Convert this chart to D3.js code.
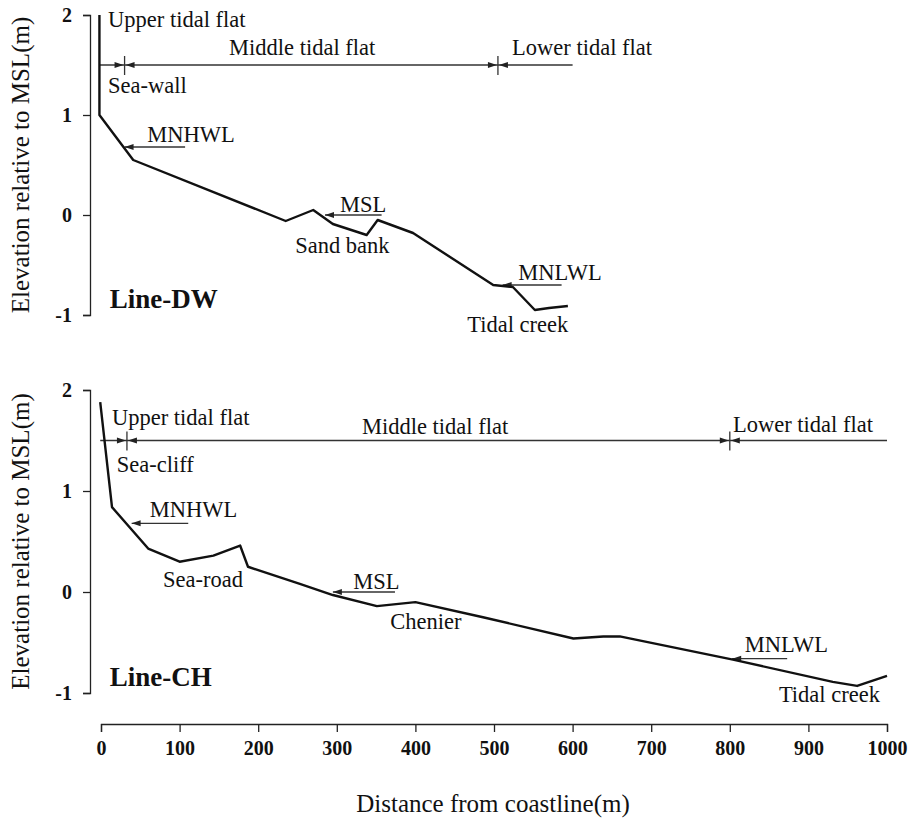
<html>
<head>
<meta charset="utf-8">
<script src="https://d3js.org/d3.v7.min.js"></script>
<style>
body { margin: 0; background: #fff; }
text { font-family: "Liberation Serif", "Times New Roman", serif; fill: #111; }
.axis path, .axis line { stroke: #222; stroke-width: 1.3; }
.axis text { font-size: 20px; font-weight: bold; }
.profile { fill: none; stroke: #111; stroke-width: 2.4; stroke-linejoin: round; }
.guide { fill: none; stroke: #333; stroke-width: 1.3; }
.note { font-size: 22.5px; }
.title { font-size: 25px; }
.panel { font-size: 27px; font-weight: bold; }
</style>
</head>
<body>
<svg width="912" height="818"></svg>
<script>
// Line-DW profile (distance m, elevation m)
const dwDist = [-2, -2, 41, 235, 270, 295, 338, 352, 397, 499, 524, 552, 570, 594];
const dwElev = [2.0, 1.0, 0.55, -0.06, 0.05, -0.09, -0.20, -0.05, -0.18, -0.70, -0.72, -0.95, -0.93, -0.91];

// Line-CH profile
const chDist = [-1, 14, 60, 100, 143, 177, 187, 253, 295, 351, 400, 486, 601, 639, 660, 804, 931, 962, 1000];
const chElev = [1.88, 0.84, 0.43, 0.30, 0.36, 0.46, 0.25, 0.08, -0.03, -0.14, -0.10, -0.25, -0.46, -0.44, -0.44, -0.67, -0.89, -0.93, -0.83];

// zone line: [start, boundary1, boundary2, end] at elevation 1.5
const dwZones = [-2, 30, 505, 600];
const chZones = [-1, 33, 800, 1000];

// water levels: name, elevation, arrow tip, arrow tail
const dwLevels = [["MNHWL", 0.68, 30, 107], ["MSL", 0.0, 285, 357], ["MNLWL", -0.70, 511, 586]];
const chLevels = [["MNHWL", 0.68, 39, 111], ["MSL", 0.0, 295, 374], ["MNLWL", -0.66, 803, 873]];

// labels: text, distance, elevation, anchor
const dwLabels = [
  ["Upper tidal flat", 9, 1.88, "start"], ["Middle tidal flat", 256, 1.60, "middle"],
  ["Lower tidal flat", 523, 1.60, "start"], ["Sea-wall", 9, 1.22, "start"],
  ["MNHWL", 59, 0.73, "start"], ["MSL", 304, 0.03, "start"], ["Sand bank", 247, -0.38, "start"],
  ["MNLWL", 531, -0.65, "start"], ["Tidal creek", 466, -1.17, "start"]
];
const chLabels = [
  ["Upper tidal flat", 14, 1.65, "start"], ["Middle tidal flat", 425, 1.56, "middle"],
  ["Lower tidal flat", 804, 1.58, "start"], ["Sea-cliff", 20, 1.19, "start"],
  ["MNHWL", 62, 0.74, "start"], ["Sea-road", 79, 0.05, "start"], ["MSL", 321, 0.03, "start"],
  ["Chenier", 368, -0.37, "start"], ["MNLWL", 819, -0.59, "start"], ["Tidal creek", 991, -1.09, "end"]
];

const yTicks = [-1, 0, 1, 2];
const xTicks = [0, 100, 200, 300, 400, 500, 600, 700, 800, 900, 1000];

const svg = d3.select('svg');
const xs = d3.scaleLinear().domain([0, 1000]).range([101, 887]);

function arrow(g, x, y, dir) {
  // small filled arrowhead with its tip at (x, y); dir = -1 points left, 1 points right
  g.append('path')
    .attr('d', `M${x},${y}L${x - dir * 9},${y - 3}L${x - dir * 9},${y + 3}Z`)
    .attr('fill', '#222');
}

function panel(top, bottom, dist, elev, zones, levels, labels, name) {
  const ys = d3.scaleLinear().domain([-1, 2]).range([bottom, top]);
  const g = svg.append('g');

  g.append('g').attr('class', 'axis')
    .attr('transform', 'translate(90,0)')
    .call(d3.axisLeft(ys).tickValues(yTicks).tickSize(7).tickPadding(11).tickFormat(d => String(d)));

  g.append('text').attr('class', 'title')
    .attr('transform', `translate(29,${(top + bottom) / 2}) rotate(-90)`)
    .attr('text-anchor', 'middle')
    .text('Elevation relative to MSL(m)');

  // zone line with boundaries
  const yz = ys(1.5);
  g.append('line').attr('class', 'guide')
    .attr('x1', xs(zones[0])).attr('x2', xs(zones[3])).attr('y1', yz).attr('y2', yz);
  [zones[1], zones[2]].forEach(b => {
    const bx = xs(b);
    g.append('line').attr('class', 'guide')
      .attr('x1', bx).attr('x2', bx).attr('y1', yz - 9).attr('y2', yz + 10);
    arrow(g, bx - 1, yz, 1);
    arrow(g, bx + 1, yz, -1);
  });

  // water level arrows
  levels.forEach(l => {
    const yl = ys(l[1]);
    g.append('line').attr('class', 'guide')
      .attr('x1', xs(l[2])).attr('x2', xs(l[3])).attr('y1', yl).attr('y2', yl);
    arrow(g, xs(l[2]), yl, -1);
  });

  const line = d3.line().x(d => xs(d[0])).y(d => ys(d[1]));
  g.append('path').attr('class', 'profile')
    .attr('d', line(dist.map((d, i) => [d, elev[i]])));

  g.selectAll('text.note').data(labels).enter().append('text')
    .attr('class', 'note')
    .attr('x', d => xs(d[1])).attr('y', d => ys(d[2]))
    .attr('text-anchor', d => d[3])
    .text(d => d[0]);

  g.append('text').attr('class', 'panel')
    .attr('x', xs(11)).attr('y', ys(-0.93))
    .text(name);
}

panel(15, 315, dwDist, dwElev, dwZones, dwLevels, dwLabels, 'Line-DW');
panel(390, 693, chDist, chElev, chZones, chLevels, chLabels, 'Line-CH');

svg.append('g').attr('class', 'axis')
  .attr('transform', 'translate(0,724)')
  .call(d3.axisBottom(xs).tickValues(xTicks).tickSize(8).tickPadding(9).tickFormat(d => String(d)));

svg.append('text').attr('class', 'title')
  .attr('x', 493).attr('y', 812)
  .attr('text-anchor', 'middle')
  .text('Distance from coastline(m)');
</script>
</body>
</html>
